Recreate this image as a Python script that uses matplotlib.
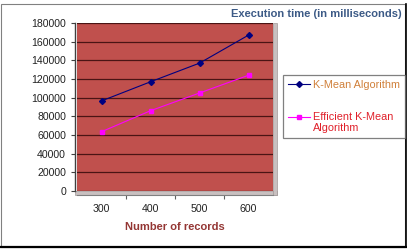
import matplotlib
matplotlib.use("Agg")
import matplotlib.pyplot as plt
from matplotlib.patches import Rectangle
from matplotlib.lines import Line2D
from matplotlib.legend_handler import HandlerLine2D

categories = ["300", "400", "500", "600"]
kmean = [96500, 117000, 137000, 167000]
efficient = [63500, 86000, 105000, 124000]
yticks = [0, 20000, 40000, 60000, 80000, 100000, 120000, 140000, 160000, 180000]

plt.rcParams['font.family'] = ['Liberation Sans', 'DejaVu Sans']

W, H = 407, 252
fig = plt.figure(figsize=(W / 100, H / 100), dpi=100)

def fx(px):
    return px / W

def fy(py):
    return 1 - py / H


class ShiftedHandler(HandlerLine2D):
    def __init__(self, shift=0.0, **kw):
        super().__init__(**kw)
        self.shift = shift

    def create_artists(self, legend, orig_handle, xdescent, ydescent, width, height, fontsize, trans):
        return super().create_artists(legend, orig_handle, xdescent, ydescent - 2 * self.shift,
                                      width, height, fontsize, trans)


# outer frame
fig.patches.append(Rectangle((fx(1), fy(247)), fx(404), 243 / H, transform=fig.transFigure,
                             facecolor='white', edgecolor='#808080', lw=0.8, zorder=-5))
fig.lines.append(Line2D([fx(1), fx(405.5)], [fy(247), fy(247)], transform=fig.transFigure, color='black', lw=1.6, zorder=-4))
fig.lines.append(Line2D([fx(405.5), fx(405.5)], [fy(247), fy(4)], transform=fig.transFigure, color='black', lw=1.2, zorder=-4))

# 3D floor and side wall
fig.patches.append(Rectangle((fx(75), fy(195)), fx(202), 4 / H, transform=fig.transFigure,
                             facecolor='#C8C0C0', edgecolor='#A09898', lw=0.5, zorder=-3))
fig.patches.append(Rectangle((fx(273), fy(195)), fx(3.5), 172 / H, transform=fig.transFigure,
                             facecolor='#C8C0C0', edgecolor='#A09898', lw=0.5, zorder=-3))

ax = fig.add_axes([fx(77), fy(191), fx(196), 168 / H])
ax.set_zorder(2)
ax.set_facecolor('#C0504D')
x = list(range(len(categories)))
l1, = ax.plot(x, kmean, color='#000080', lw=0.8, marker='D', ms=3, label='K-Mean Algorithm', zorder=3)
l2, = ax.plot(x, efficient, color='#FF00FF', lw=0.8, marker='s', ms=3.2, label='Efficient K-Mean\nAlgorithm', zorder=3)

ax.set_xlim(-0.5, len(categories) - 0.5)
ax.set_ylim(0, 180000)
ax.set_yticks(yticks)
ax.set_yticklabels([str(v) for v in yticks])
ax.yaxis.grid(True, color='#4A1414', lw=0.9)
ax.set_axisbelow(True)

ax.set_xticks([i + 0.5 for i in range(len(categories) - 1)])
ax.set_xticklabels([])
ax.set_xticks(x, minor=True)
ax.set_xticklabels(categories, minor=True)
ax.tick_params(axis='x', which='major', length=3, color='#606060', direction='out')
ax.tick_params(axis='x', which='minor', length=0, pad=6.5, labelsize=7.6, labelcolor='#222222')
ax.tick_params(axis='y', length=3, color='#404040', pad=3.5, labelsize=7.6, labelcolor='#222222')

for s in ['top', 'right']:
    ax.spines[s].set_visible(False)
ax.spines['left'].set_position(('outward', 1.5))
ax.spines['left'].set_color('#404040')
ax.spines['left'].set_linewidth(1.0)
ax.spines['bottom'].set_position(('outward', 3))
ax.spines['bottom'].set_color('#808080')
ax.spines['bottom'].set_linewidth(0.8)

fig.text(fx(402), fy(14), 'Execution time (in milliseconds)', ha='right', va='center',
         fontsize=8, fontweight='bold', color='#3C5A86')
fig.text(fx(175), fy(227), 'Number of records', ha='center', va='center',
         fontsize=8, fontweight='bold', color='#943634')

leg = fig.legend(handles=[l1, l2], loc='upper left', bbox_to_anchor=(fx(283), fy(75)),
                 bbox_transform=fig.transFigure,
                 handler_map={l2: ShiftedHandler(shift=4.3)},
                 fontsize=7.8, frameon=True, fancybox=False, handlelength=2.0, handletextpad=0.3,
                 borderpad=0.45, labelspacing=2.05, borderaxespad=0)
leg.get_frame().set_edgecolor('#606060')
leg.get_frame().set_linewidth(0.9)
leg.get_texts()[0].set_color('#D0803A')
leg.get_texts()[1].set_color('#E0202A')
leg.get_texts()[1].set_linespacing(1.15)

fig.savefig('out.png', dpi=100)
